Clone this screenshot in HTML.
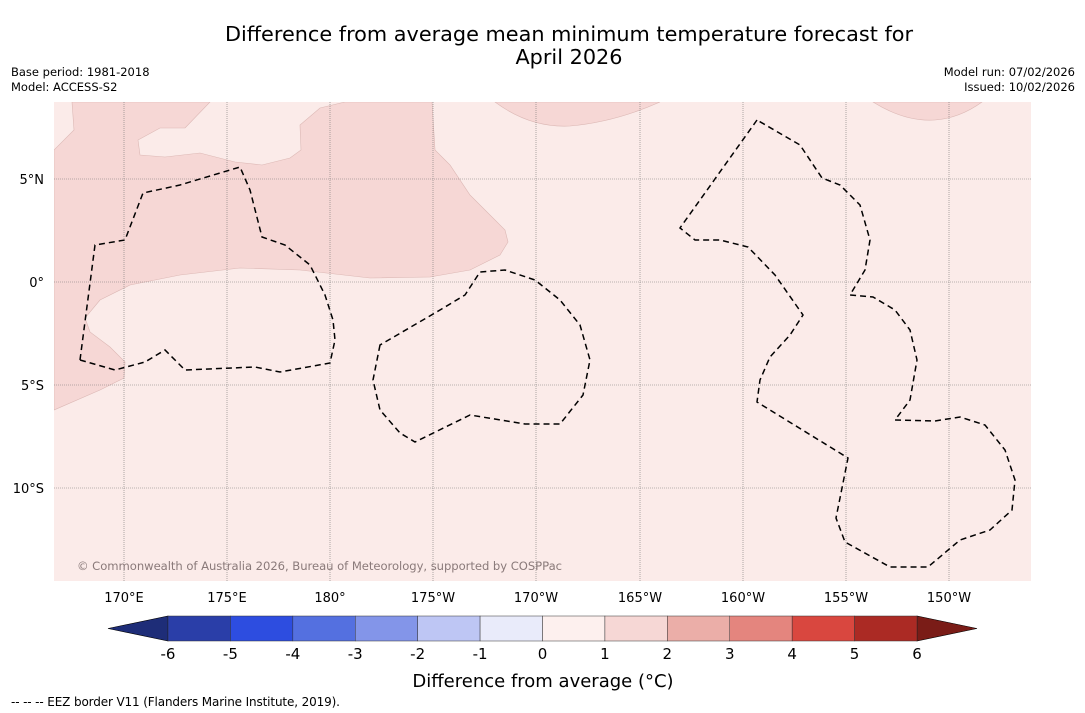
<!DOCTYPE html>
<html><head><meta charset="utf-8"><style>
body{margin:0;background:#fff;width:1085px;height:713px;overflow:hidden;font-family:"Liberation Sans","DejaVu Sans",sans-serif;}
svg{position:absolute;left:0;top:0}
</style></head><body>
<svg width="1085" height="713" font-family="DejaVu Sans, Liberation Sans, sans-serif">
<text x="569" y="41" text-anchor="middle" font-size="20.8">Difference from average mean minimum temperature forecast for</text>
<text x="569" y="64" text-anchor="middle" font-size="20.8">April 2026</text>
<text x="11" y="76" font-size="11.5">Base period: 1981-2018</text>
<text x="11" y="91" font-size="11.5">Model: ACCESS-S2</text>
<text x="1075" y="76" font-size="11.5" text-anchor="end">Model run: 07/02/2026</text>
<text x="1075" y="91" font-size="11.5" text-anchor="end">Issued: 10/02/2026</text>
<defs><clipPath id="mc"><rect x="54" y="102" width="977" height="479"/></clipPath></defs>
<g clip-path="url(#mc)">
<rect x="54" y="102" width="977" height="479" fill="#fbebe9"/>
<path fill="#f6d7d5" stroke="#dcb8b5" stroke-width="0.6" d="M54,150 L74,130 L72,102 L210,102 L185,128 L160,128 L138,140 L140,155 L165,157 L200,153 L235,162 L262,165 L290,158 L301,150 L300,125 L320,108 L345,102 L432,102 L435,150 L450,165 L470,195 L490,215 L505,230 L508,242 L500,255 L470,270 L430,277 L370,278 L300,270 L240,268 L180,275 L130,285 L100,300 L85,318 L90,332 L110,347 L125,362 L124,378 L100,390 L54,410 Z"/>
<path fill="#f6d7d5" stroke="#dcb8b5" stroke-width="0.6" d="M495,102 Q530,128 570,126 Q615,122 660,102 Z"/>
<path fill="#f6d7d5" stroke="#dcb8b5" stroke-width="0.6" d="M873,102 Q905,122 935,120 Q960,118 982,102 Z"/>
<g id="grid" stroke="#777" stroke-width="0.6" stroke-dasharray="1,1"></g>
<g fill="none" stroke="#000" stroke-width="1.5" stroke-dasharray="6,4">
<path d="M80,360 L95,245 L125,240 L143,193 L180,185 L240,167 L250,190 L262,237 L285,245 L310,265 L325,295 L333,320 L335,340 L330,363 L280,372 L255,367 L185,370 L165,350 L145,362 L115,370 Z"/>
<path d="M380,345 L373,380 L380,410 L400,433 L415,442 L470,415 L525,424 L560,424 L583,395 L590,360 L580,325 L560,300 L535,280 L505,270 L480,272 L465,295 L440,310 Z"/>
<path d="M757,120 L680,228 L695,240 L720,240 L748,247 L775,275 L803,315 L790,335 L770,357 L760,380 L757,402 L848,458 L836,518 L845,542 L890,567 L928,567 L960,540 L990,530 L1012,510 L1015,480 L1005,450 L985,425 L960,417 L935,421 L895,420 L910,400 L917,360 L910,330 L895,310 L873,297 L850,295 L865,270 L870,240 L860,205 L840,185 L822,178 L800,145 Z"/>
</g>
<text x="77" y="570" font-size="11.6" fill="#8a7a7a" textLength="485">© Commonwealth of Australia 2026, Bureau of Meteorology, supported by COSPPac</text>
</g>
<g id="axlabels" font-size="13"></g>
<g id="cbar"></g>
<text x="543" y="687" text-anchor="middle" font-size="18">Difference from average (°C)</text>
<text x="11" y="706" font-size="12" textLength="329">-- -- -- EEZ border V11 (Flanders Marine Institute, 2019).</text>
</svg>
<script>
const lonLabels=["170°E","175°E","180°","175°W","170°W","165°W","160°W","155°W","150°W"];
const lonPx=[124,227,330,433,536,640,743,846,949];
const latLabels=["5°N","0°","5°S","10°S"];
const latPx=[179,282,385,488];
const binEdges=[-6,-5,-4,-3,-2,-1,0,1,2,3,4,5,6];
const binColors=["#2a3ea8","#2d4de0","#5470e0","#8395e9","#bec6f4","#e9ebfa","#fdf0ee","#f6d7d5","#ebaea8","#e4857e","#d9473f","#ab2a24"];
const lowColor="#1e2d78", highColor="#7a1c17";
const NS="http://www.w3.org/2000/svg";
const grid=document.getElementById('grid'), ax=document.getElementById('axlabels'), cb=document.getElementById('cbar');
function mk(t,a,p){const e=document.createElementNS(NS,t);for(const k in a)e.setAttribute(k,a[k]);p.appendChild(e);return e;}
lonPx.forEach((x,i)=>{
  const l=mk('line',{x1:x,x2:x,y1:102,y2:581},grid);
  
  
  const t=mk('text',{x:x,y:602,'text-anchor':'middle'},ax);t.textContent=lonLabels[i];
  
  
});
latPx.forEach((y,i)=>{
  const l=mk('line',{x1:54,x2:1031,y1:y,y2:y},grid);
  
  
  const t=mk('text',{x:44,y:y+5,'text-anchor':'end'},ax);t.textContent=latLabels[i];
  
  
});
const x0=168,x1=917,yT=616,yB=641,n=binEdges.length-1;
const sx=v=>x0+(v-binEdges[0])/(binEdges[n]-binEdges[0])*(x1-x0);
const lt=mk('polygon',{points:`108,${(yT+yB)/2} ${x0},${yT} ${x0},${yB}`,fill:lowColor,stroke:'#000','stroke-width':0.6},cb);


const ht=mk('polygon',{points:`977,${(yT+yB)/2} ${x1},${yT} ${x1},${yB}`,fill:highColor,stroke:'#000','stroke-width':0.6},cb);


for(let i=0;i<n;i++){
  const r=mk('rect',{x:sx(binEdges[i]),y:yT,width:sx(binEdges[i+1])-sx(binEdges[i]),height:yB-yT,fill:binColors[i],stroke:'#333','stroke-width':0.5},cb);
  
  
}
binEdges.forEach(v=>{
  const t=mk('text',{x:sx(v),y:659,'text-anchor':'middle','font-size':15},cb);t.textContent=String(v);
  
  
});
</script>
</body></html>
